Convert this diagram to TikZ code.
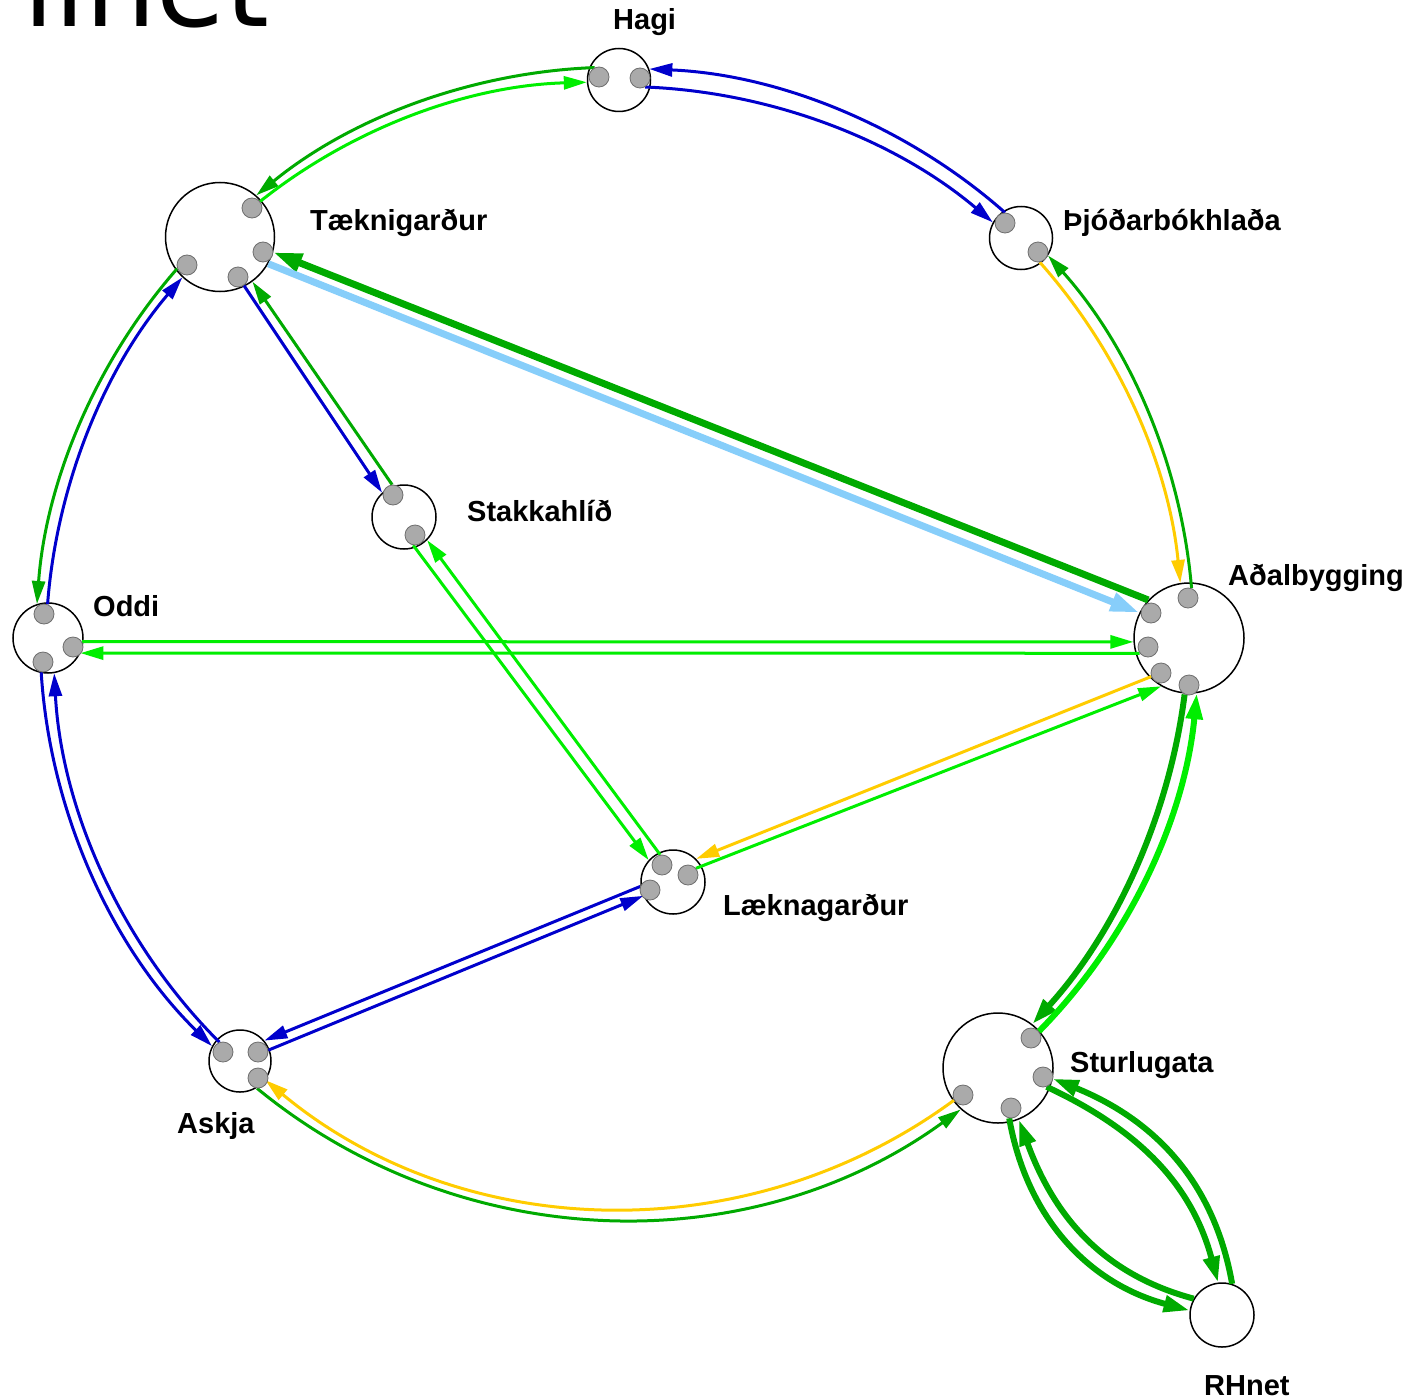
\documentclass[tikz,border=0pt]{standalone}
\usepackage{fontspec}
\usetikzlibrary{arrows.meta}
\newfontfamily\labfont{Liberation Sans}
\newfontfamily\titlefontfam{DejaVu Sans}
\definecolor{dkg}{RGB}{0,170,0}
\definecolor{ltg}{RGB}{0,238,0}
\definecolor{blu}{RGB}{0,0,204}
\definecolor{yel}{RGB}{255,204,0}
\definecolor{skyb}{RGB}{135,206,250}
\definecolor{portfill}{RGB}{170,170,170}
\definecolor{portedge}{RGB}{110,110,110}
\pgfdeclarelayer{fg}
\pgfsetlayers{main,fg}
\tikzset{
  stn/.style={circle, draw=black, line width=1.5pt, fill=white, inner sep=0pt},
  port/.style={circle, draw=portedge, line width=0.8pt, fill=portfill, minimum size=20pt, inner sep=0pt},
  lbl/.style={font=\labfont\bfseries\fontsize{29}{32}\selectfont, inner sep=0pt, anchor=base west},
  ln/.style={line width=3pt, -{Triangle[length=23pt,width=13pt]}},
  thk/.style={line width=7pt, -{Triangle[length=29pt,width=18pt]}},
  thkb/.style={line width=6pt, -{Triangle[length=26pt,width=16pt]}},
  arcl/.style={looseness=0.87},
}
\begin{document}
\begin{tikzpicture}[x=1pt,y=1pt]
\useasboundingbox (0,0) rectangle (1412,-1399);
\begin{scope}
\clip (0,0) rectangle (1412,-1399);
\node[font=\titlefontfam\fontsize{112}{114}\selectfont, inner sep=0pt, anchor=base west] (title) at (23,-27) {linet};
\end{scope}

% stations
\node[stn, minimum size=63pt] (hagi) at (619,-80) {};
\node[stn, minimum size=109pt] (tk) at (220,-237) {};
\node[stn, minimum size=63pt] (thj) at (1021,-238) {};
\node[stn, minimum size=64pt] (stk) at (404,-517) {};
\node[stn, minimum size=70pt] (oddi) at (48,-638) {};
\node[stn, minimum size=110pt] (adal) at (1189,-638) {};
\node[stn, minimum size=64pt] (lkn) at (673,-882) {};
\node[stn, minimum size=62pt] (askja) at (240,-1061) {};
\node[stn, minimum size=110pt] (sturl) at (998,-1068) {};
\node[stn, minimum size=64pt] (rh) at (1222,-1315) {};

% labels
\node[lbl] (l-hagi) at (613,-30) {Hagi};
\node[lbl] (l-tk) at (310,-230) {Tæknigarður};
\node[lbl] (l-thj) at (1063,-230) {Þjóðarbókhlaða};
\node[lbl] (l-stk) at (467,-521) {Stakkahlíð};
\node[lbl] (l-oddi) at (93,-616) {Oddi};
\node[lbl] (l-adal) at (1228,-585) {Aðalbygging};
\node[lbl] (l-lkn) at (723,-915) {Læknagarður};
\node[lbl] (l-askja) at (177,-1133) {Askja};
\node[lbl] (l-sturl) at (1070,-1072) {Sturlugata};
\node[lbl] (l-rh) at (1204,-1395) {RHnet};

% ports (on top)
\begin{pgfonlayer}{fg}
\node[port] (hagiL) at (599,-77) {};
\node[port] (hagiR) at (640,-78) {};
\node[port] (tkA) at (252,-208) {};
\node[port] (tkB) at (263,-252) {};
\node[port] (tkC) at (187,-265) {};
\node[port] (tkD) at (238,-277) {};
\node[port] (thjA) at (1005,-223) {};
\node[port] (thjB) at (1038,-252) {};
\node[port] (stkA) at (393,-495) {};
\node[port] (stkB) at (415,-535) {};
\node[port] (oddiA) at (44,-614) {};
\node[port] (oddiB) at (73,-647) {};
\node[port] (oddiC) at (43,-662) {};
\node[port] (adalA) at (1188,-598) {};
\node[port] (adalB) at (1151,-613) {};
\node[port] (adalC) at (1148,-647) {};
\node[port] (adalD) at (1161,-673) {};
\node[port] (adalE) at (1189,-685) {};
\node[port] (lknA) at (662,-865) {};
\node[port] (lknB) at (688,-875) {};
\node[port] (lknC) at (650,-890) {};
\node[port] (askjaA) at (223,-1052) {};
\node[port] (askjaB) at (258,-1052) {};
\node[port] (askjaC) at (258,-1078) {};
\node[port] (sturlA) at (1031,-1038) {};
\node[port] (sturlB) at (1043,-1077) {};
\node[port] (sturlC) at (963,-1095) {};
\node[port] (sturlD) at (1011,-1108) {};
\end{pgfonlayer}

% ring arcs
\draw[ln, dkg] (hagiL.115) to[bend right=18.5, arcl] (tk.49);
\draw[ln, ltg] (tkA.39) to[bend left=18.5, arcl] (hagi.184);
\draw[ln, blu] (thjA.90) to[bend right=19.5, arcl] (hagi.20);
\draw[ln, blu] (hagiR.-60) to[bend left=19, arcl] (thj.151);
\draw[ln, dkg] (adalA.70) to[bend right=18.5, arcl] (thj.-33);
\draw[ln, yel] (thjB.-80) to[bend left=18, arcl] (adal.99);
\draw[ln, dkg] (tkC.200) to[bend right=18.5, arcl] (oddi.108);
\draw[ln, blu] (oddiA.70) to[bend left=18, arcl] (tk.227);
\draw[ln, blu] (oddiC.-100) to[bend right=21, arcl] (askja.152);
\draw[ln, blu] (askjaA.110) to[bend left=21, arcl] (oddi.-80);
\draw[ln, dkg] (askjaC.-95) to[bend right=37.7, looseness=0.95] (sturl.228);
\draw[ln, yel] (sturlC.210) to[bend left=38, looseness=0.95] (askja.-37);
\draw[thkb, dkg] (adalE.-115) to[bend left=17.5, arcl] (sturl.52);
\draw[thkb, ltg] (sturlA.40) to[bend right=19.5, arcl] (adal.-82);

% straight links
\draw[ln, blu] (tkD.-55) -- (stk.132);
\draw[ln, dkg] (stkA.95) -- (tk.-54);
\draw[ln, ltg] (stkB.-100) -- (lkn.138);
\draw[ln, ltg] (lknA.100) -- (stk.-45);
\draw[ln, ltg] (oddiB.31) -- (adal.184);
\draw[ln, ltg] (adalC.217) -- (oddi.-25);
\draw[ln, yel] (adalD.200) -- (lkn.45);
\draw[ln, ltg] (lknB.40) -- (adal.240);
\draw[ln, blu] (lknC.160) -- (askja.40);
\draw[ln, blu] (askjaB.10) -- (lkn.205);
\draw[thk, dkg] (adal.137) -- (tk.-16);
\draw[thk, skyb] (tk.-29) -- (adal.153);

% Sturlugata - RHnet
\draw[thkb, dkg] (sturlB.-70) to[out=-25, in=105] (rh.97);
\draw[thkb, dkg] (rh.72) to[out=100, in=-22] (sturl.-11);
\draw[thkb, dkg] (sturlD.-100) to[out=-80, in=165] (rh.172);
\draw[thkb, dkg] (rh.150) to[out=165, in=-70] (sturl.-68);
\end{tikzpicture}
\end{document}
